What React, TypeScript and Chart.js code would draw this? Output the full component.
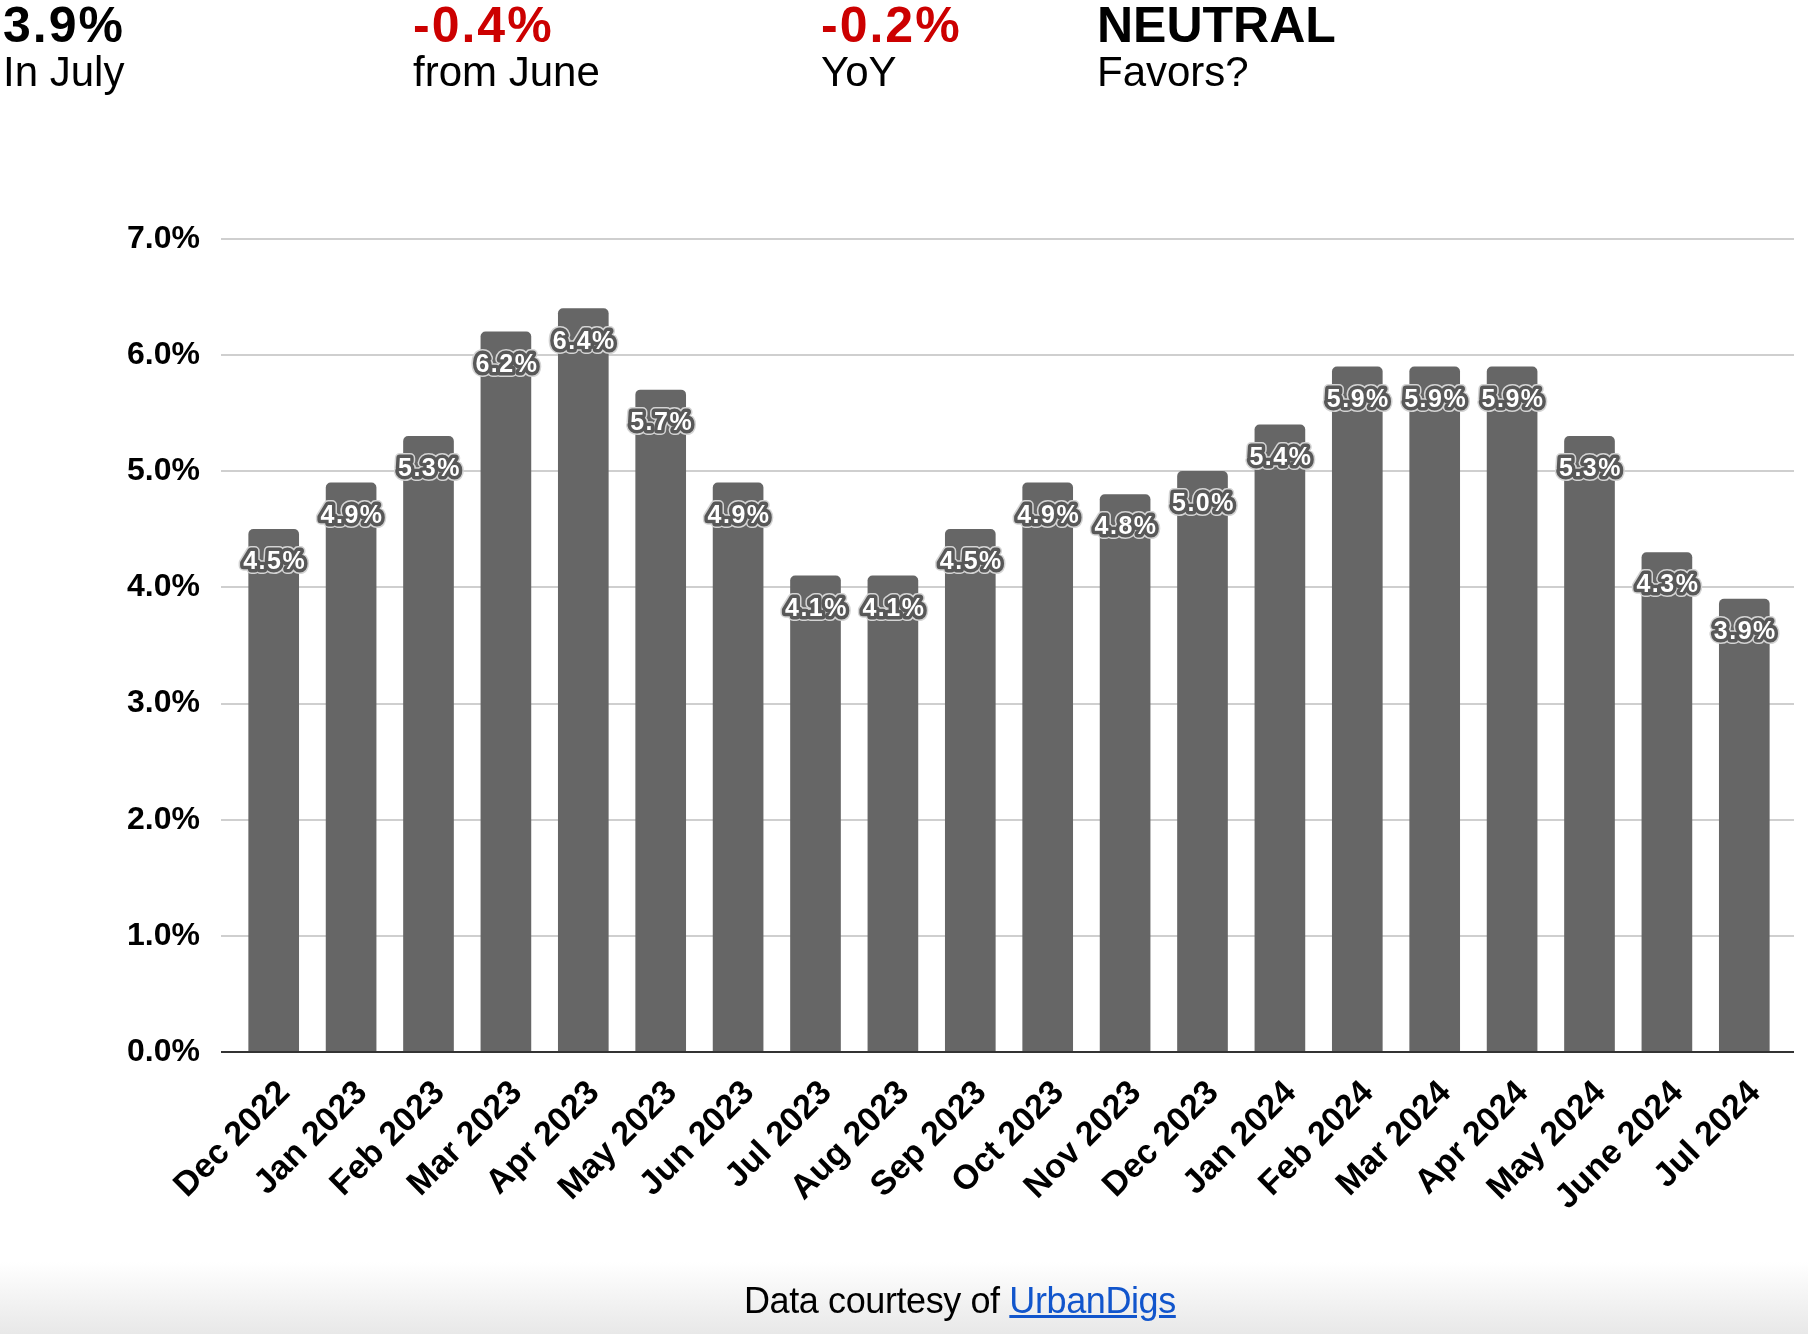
import React, { useEffect, useRef } from 'react';
import { Chart, registerables } from 'chart.js';

Chart.register(...registerables);

// ---- Data ----
const months = [
  'Dec 2022', 'Jan 2023', 'Feb 2023', 'Mar 2023', 'Apr 2023', 'May 2023', 'Jun 2023',
  'Jul 2023', 'Aug 2023', 'Sep 2023', 'Oct 2023', 'Nov 2023', 'Dec 2023', 'Jan 2024',
  'Feb 2024', 'Mar 2024', 'Apr 2024', 'May 2024', 'June 2024', 'Jul 2024',
];
const rates = [4.5, 4.9, 5.3, 6.2, 6.4, 5.7, 4.9, 4.1, 4.1, 4.5, 4.9, 4.8, 5.0, 5.4, 5.9, 5.9, 5.9, 5.3, 4.3, 3.9];
const yMin = 0;
const yMax = 7;
const yStep = 1;

const statValues = ['3.9%', '-0.4%', '-0.2%', 'NEUTRAL'];
const statCaptions = ['In July', 'from June', 'YoY', 'Favors?'];
const statIsRed = [false, true, true, false];

const footerText = 'Data courtesy of ';
const footerLink = 'UrbanDigs';

// ---- Layout / style ----
const FONT = '"Liberation Sans", Arial, Helvetica, sans-serif';
const statLefts = [3, 413, 821, 1097];
const statSpacing = ['2px', '2px', '2px', '0px'];
const BAR_COLOR = '#666666';

const gridPlugin = {
  id: 'extendedGrid',
  beforeDatasetsDraw(chart: any) {
    const { ctx, chartArea, scales } = chart;
    const y = scales.y;
    ctx.save();
    ctx.strokeStyle = '#cfcfcf';
    ctx.lineWidth = 2;
    for (let v = yMin + yStep; v <= yMax; v += yStep) {
      const py = Math.round(y.getPixelForValue(v));
      ctx.beginPath();
      ctx.moveTo(chartArea.left - 14, py);
      ctx.lineTo(chartArea.right + 11, py);
      ctx.stroke();
    }
    ctx.restore();
  },
  afterDatasetsDraw(chart: any) {
    const { ctx, chartArea, scales } = chart;
    const y = scales.y;
    ctx.save();
    const py = Math.round(y.getPixelForValue(0));
    ctx.strokeStyle = '#333333';
    ctx.lineWidth = 2;
    ctx.beginPath();
    ctx.moveTo(chartArea.left - 14, py);
    ctx.lineTo(chartArea.right + 11, py);
    ctx.stroke();

    // data labels
    const meta = chart.getDatasetMeta(0);
    ctx.font = `bold 25px ${FONT}`;
    try {
      (ctx as any).letterSpacing = '1.5px';
    } catch (e) {}
    ctx.textAlign = 'center';
    ctx.textBaseline = 'middle';
    ctx.lineJoin = 'round';
    meta.data.forEach((bar: any, i: number) => {
      const text = rates[i].toFixed(1) + '%';
      const tx = bar.x + 1;
      const ty = bar.y + 33;
      ctx.strokeStyle = '#d4d4d4';
      ctx.lineWidth = 10;
      ctx.strokeText(text, tx, ty);
      ctx.strokeStyle = '#585858';
      ctx.lineWidth = 7;
      ctx.strokeText(text, tx, ty);
      ctx.fillStyle = '#ffffff';
      ctx.fillText(text, tx, ty);
    });
    ctx.restore();
  },
};

function BarChart() {
  const ref = useRef<HTMLCanvasElement | null>(null);
  useEffect(() => {
    if (!ref.current) return;
    const chart = new Chart(ref.current, {
      type: 'bar',
      data: {
        labels: months,
        datasets: [
          {
            data: rates,
            backgroundColor: BAR_COLOR,
            barThickness: 50,
            borderRadius: 5,
          },
        ],
      },
      options: {
        animation: false,
        responsive: false,
        layout: { padding: { top: 239, right: 25, bottom: 0, left: 0 } },
        plugins: { legend: { display: false }, tooltip: { enabled: false } },
        scales: {
          x: {
            grid: { display: false, drawTicks: false },
            border: { display: false },
            ticks: {
              color: '#000',
              font: { family: FONT, size: 34, weight: 'bold' },
              minRotation: 45,
              maxRotation: 45,
              autoSkip: false,
              padding: 21,
              labelOffset: 11,
            },
            afterFit: (s: any) => {
              s.height = 282;
            },
          },
          y: {
            min: yMin,
            max: yMax,
            grid: { display: false, drawTicks: false },
            border: { display: false },
            ticks: {
              stepSize: yStep,
              color: '#000',
              font: { family: FONT, size: 32, weight: 'bold' },
              padding: 35,
              callback: (v: any) => Number(v).toFixed(1) + '%',
            },
            afterFit: (s: any) => {
              s.width = 235;
            },
          },
        },
      } as any,
      plugins: [gridPlugin],
    });
    return () => chart.destroy();
  }, []);
  return (
    <canvas
      ref={ref}
      width={1808}
      height={1334}
      style={{ position: 'absolute', left: 0, top: 0, width: 1808, height: 1334 }}
    />
  );
}

export default function App() {
  return (
    <div>
      <div
        style={{
          position: 'absolute',
          left: 0,
          top: 1262,
          width: 1808,
          height: 72,
          background: 'linear-gradient(to bottom, #ffffff, #e8e8e8)',
        }}
      />
      <BarChart />
      {statValues.map((v, i) => (
        <React.Fragment key={i}>
          <div
            style={{
              position: 'absolute',
              left: statLefts[i],
              top: 0,
              fontFamily: FONT,
              fontWeight: 'bold',
              fontSize: 50,
              lineHeight: '50px',
              letterSpacing: statSpacing[i],
              color: statIsRed[i] ? '#cc0000' : '#000',
              whiteSpace: 'nowrap',
            }}
          >
            {v}
          </div>
          <div
            style={{
              position: 'absolute',
              left: statLefts[i],
              top: 51,
              fontFamily: FONT,
              fontSize: 42,
              lineHeight: '42px',
              color: '#000',
              whiteSpace: 'nowrap',
            }}
          >
            {statCaptions[i]}
          </div>
        </React.Fragment>
      ))}
      <div
        style={{
          position: 'absolute',
          left: 744,
          top: 1283,
          fontFamily: FONT,
          fontSize: 36,
          lineHeight: '36px',
          letterSpacing: '-0.4px',
          color: '#000',
          whiteSpace: 'nowrap',
        }}
      >
        {footerText}
        <a href="#" style={{ color: '#1155cc', textDecoration: 'underline' }}>
          {footerLink}
        </a>
      </div>
    </div>
  );
}
